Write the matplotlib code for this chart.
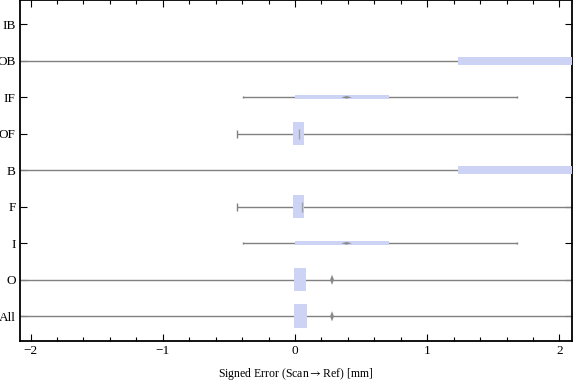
import numpy as np
import matplotlib

matplotlib.use("Agg")
import matplotlib.pyplot as plt
from matplotlib.patches import Polygon
from matplotlib.ticker import MultipleLocator

# categories bottom -> top
categories = ["All", "O", "I", "F", "B", "OF", "IF", "OB", "IB"]
whisker_lo = [-3.0, -3.0, -0.39, -0.44, -3.0, -0.44, -0.39, -3.0, np.nan]
q1 = [-0.01, -0.01, 0.0, -0.015, 1.23, -0.015, 0.0, 1.23, np.nan]
q3 = [0.09, 0.085, 0.71, 0.065, 2.6, 0.065, 0.71, 2.6, np.nan]
whisker_hi = [3.0, 3.0, 1.68, 3.0, 3.0, 3.0, 1.68, 3.0, np.nan]
medians = [0.28, 0.28, 0.39, 0.05, np.nan, 0.03, 0.39, np.nan, np.nan]
box_h = [0.65, 0.62, 0.11, 0.63, 0.22, 0.63, 0.11, 0.22, 0.0]
capped_lo = [False, False, True, True, False, True, True, False, False]

BOX = "#cdd3f5"
LINE = "#808080"
SERIF = ["Liberation Serif", "DejaVu Serif"]
plt.rcParams["mathtext.fontset"] = "stix"


def diamond(ax, x, yc, dx, dy):
    ax.add_patch(Polygon([(x - dx, yc), (x, yc + dy), (x + dx, yc), (x, yc - dy)],
                         closed=True, color="#8a8a8a", lw=0, zorder=4))


fig = plt.figure(figsize=(5.76, 3.81), dpi=100)
ax = fig.add_axes([20 / 576, 1 - 341 / 381, 552 / 576, 341 / 381])

y = np.arange(1, len(categories) + 1)
for yi, lo, a, b, hi, med, h, cap in zip(y, whisker_lo, q1, q3, whisker_hi,
                                         medians, box_h, capped_lo):
    if np.isnan(lo):
        continue
    ax.hlines(yi, lo, hi, color=LINE, lw=1.0, zorder=2)
    if cap:
        ch = 0.22 if h > 0.3 else 0.05
        ax.vlines(lo, yi - ch / 2, yi + ch / 2, color=LINE, lw=1.0, zorder=2)
        if hi < 2:
            ax.vlines(hi, yi - ch / 2, yi + ch / 2, color=LINE, lw=1.0, zorder=2)
    ax.barh(yi, b - a, left=a, height=h, color=BOX, lw=0, zorder=3)
    if np.isnan(med):
        continue
    if h > 0.3 and med < 0.1:
        ax.vlines(med, yi - 0.14, yi + 0.14, color="#a0a0a0", lw=1.0, zorder=4)
    elif h > 0.3:
        diamond(ax, med, yi, 0.015, 0.14)
    else:
        diamond(ax, med, yi, 0.04, 0.035)

ax.set_xlim(-2.08, 2.095)
ax.set_ylim(0.323, 9.666)
ax.set_yticks(y)
ax.set_yticklabels(categories, fontsize=9.5, family=SERIF)
ax.set_xticks([-2, -1, 0, 1, 2])
ax.set_xticklabels(["\u22122", "\u22121", "0", "1", "2"], fontsize=9.5, family=SERIF)
ax.xaxis.set_minor_locator(MultipleLocator(0.2))
ax.tick_params(axis="both", which="major", direction="in", length=5, width=0.8,
               top=True, right=True, pad=3)
ax.tick_params(axis="x", which="minor", direction="in", length=3, width=0.8, top=True)
for s in ax.spines.values():
    s.set_linewidth(1.3)
ax.set_xlabel("Signed Error (Scan$\\rightarrow$Ref) [mm]", fontsize=8.5,
              family=SERIF, labelpad=6)

fig.savefig("out.png", dpi=100)
